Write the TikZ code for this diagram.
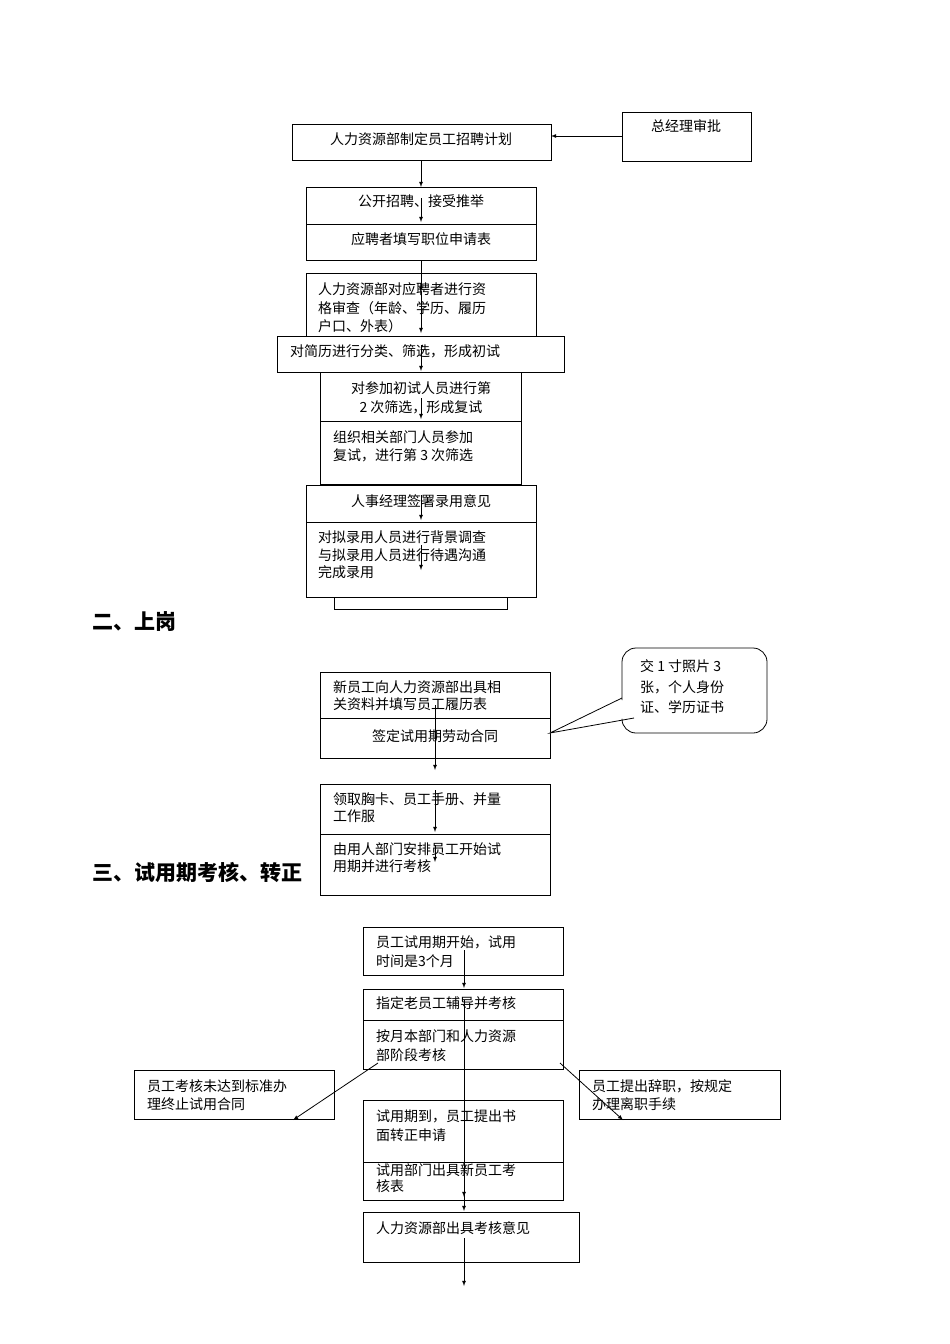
\documentclass[tikz,border=0pt]{standalone}
\usepackage{fontspec}
\setmainfont{Liberation Serif}
\newfontfamily\cjk{Noto Sans CJK SC}
\begin{document}
\begin{tikzpicture}[x=1pt,y=-1pt,
 bx/.style={draw,fill=white,line width=0.8pt},
 tl/.style={anchor=west,font=\cjk\fontsize{14}{17}\selectfont,inner sep=0},
 tc/.style={anchor=center,font=\cjk\fontsize{14}{17}\selectfont,inner sep=0},
 ar/.style={-latex,line width=0.8pt},
 hd/.style={anchor=west,font=\cjk\bfseries\fontsize{21}{24}\selectfont,inner sep=0}]
\useasboundingbox (0,0) rectangle (950,1344);
% section 1
\draw[bx] (292,124) rectangle (551,160);
\node[tc] (a) at (421,139) {人力资源部制定员工招聘计划};
\draw[bx] (622,112) rectangle (751,161);
\node[tc] (g) at (686,126) {总经理审批};
\draw[ar] (622,136) -- (551,136);
\draw[bx] (306,187) rectangle (536,224);
\node[tc] (b) at (421,201) {公开招聘、接受推举};
\draw[bx] (306,224) rectangle (536,260);
\node[tc] (c) at (421,239) {应聘者填写职位申请表};
\draw[bx] (306,273) rectangle (536,350);
\node[tl] at (318,289) {人力资源部对应聘者进行资};
\node[tl] at (318,308) {格审查（年龄、学历、履历};
\node[tl] at (318,326) {户口、外表）};
\draw[bx] (320,372) rectangle (521,484);
\draw[bx] (277,336) rectangle (564,372);
\node[tl] at (290,351) {对简历进行分类、筛选，形成初试};
\node[tc] at (421,388) {对参加初试人员进行第};
\node[tc] at (421,407) {2 次筛选，形成复试};
\draw[line width=0.8pt] (320,421) -- (521,421);
\node[tl] at (333,437) {组织相关部门人员参加};
\node[tl] at (333,455) {复试，进行第 3 次筛选};
\draw[bx] (334,585) rectangle (507,609);
\draw[bx] (306,485) rectangle (536,597);
\node[tc] at (421,501) {人事经理签署录用意见};
\draw[line width=0.8pt] (306,522) -- (536,522);
\node[tl] at (318,537) {对拟录用人员进行背景调查};
\node[tl] at (318,555) {与拟录用人员进行待遇沟通};
\node[tl] at (318,572) {完成录用};
\draw[ar] (421,160) -- (421,187);
\draw[ar] (421,198) -- (421,222);
\draw[ar] (421,260) -- (421,292);
\draw[ar] (421,292) -- (421,333);
\draw[ar] (421,345) -- (421,371);
\draw[ar] (421,398) -- (421,419);
\draw[ar] (421,495) -- (421,520);
\draw[ar] (421,545) -- (421,570);
% section 2
\node[hd] at (92,622) {二、上岗};
\node[hd] at (92,872) {三、试用期考核、转正};
\draw[bx] (320,672) rectangle (550,718);
\node[tl] at (333,687) {新员工向人力资源部出具相};
\node[tl] at (333,704) {关资料并填写员工履历表};
\draw[bx] (320,718) rectangle (550,758);
\node[tc] at (435,736) {签定试用期劳动合同};
\draw[bx,rounded corners=14pt] (622,648) rectangle (767,733);
\draw[fill=white,draw=white] (622,700) -- (550,733) -- (634,716) -- cycle;
\draw[line width=0.8pt] (622,698) -- (550,733) -- (634,718);
\node[tl] at (640,666) {交 1 寸照片 3};
\node[tl] at (640,687) {张，个人身份};
\node[tl] at (640,707) {证、学历证书};
\draw[bx] (320,784) rectangle (550,834);
\node[tl] at (333,799) {领取胸卡、员工手册、并量};
\node[tl] at (333,816) {工作服};
\draw[bx] (320,834) rectangle (550,895);
\node[tl] at (333,849) {由用人部门安排员工开始试};
\node[tl] at (333,866) {用期并进行考核};
\draw[ar] (435,705) -- (435,770);
\draw[ar] (435,790) -- (435,832);
\draw[ar] (435,845) -- (435,862);
% section 3
\draw[bx] (363,927) rectangle (563,975);
\node[tl] at (376,942) {员工试用期开始，试用};
\node[tl] at (376,961) {时间是3个月};
\draw[bx] (363,989) rectangle (563,1020);
\node[tl] at (376,1003) {指定老员工辅导并考核};
\draw[bx] (363,1020) rectangle (563,1069);
\node[tl] at (376,1036) {按月本部门和人力资源};
\node[tl] at (376,1055) {部阶段考核};
\draw[bx] (134,1070) rectangle (334,1119);
\node[tl] at (147,1086) {员工考核未达到标准办};
\node[tl] at (147,1104) {理终止试用合同};
\draw[bx] (579,1070) rectangle (780,1119);
\node[tl] at (592,1086) {员工提出辞职，按规定};
\node[tl] at (592,1104) {办理离职手续};
\draw[bx] (363,1155) rectangle (563,1200);
\node[tl] at (376,1170) {试用部门出具新员工考};
\node[tl] at (376,1186) {核表};
\draw[bx] (363,1100) rectangle (563,1162);
\node[tl] at (376,1116) {试用期到，员工提出书};
\node[tl] at (376,1135) {面转正申请};
\draw[bx] (363,1212) rectangle (579,1262);
\node[tl] at (376,1228) {人力资源部出具考核意见};
\draw[ar] (464,950) -- (464,988);
\draw[ar] (464,1000) -- (464,1197);
\draw[ar] (464,1150) -- (464,1211);
\draw[ar] (464,1238) -- (464,1286);
\draw[ar] (378,1063) -- (293,1120);
\draw[ar] (560,1063) -- (623,1120);
\end{tikzpicture}
\end{document}
